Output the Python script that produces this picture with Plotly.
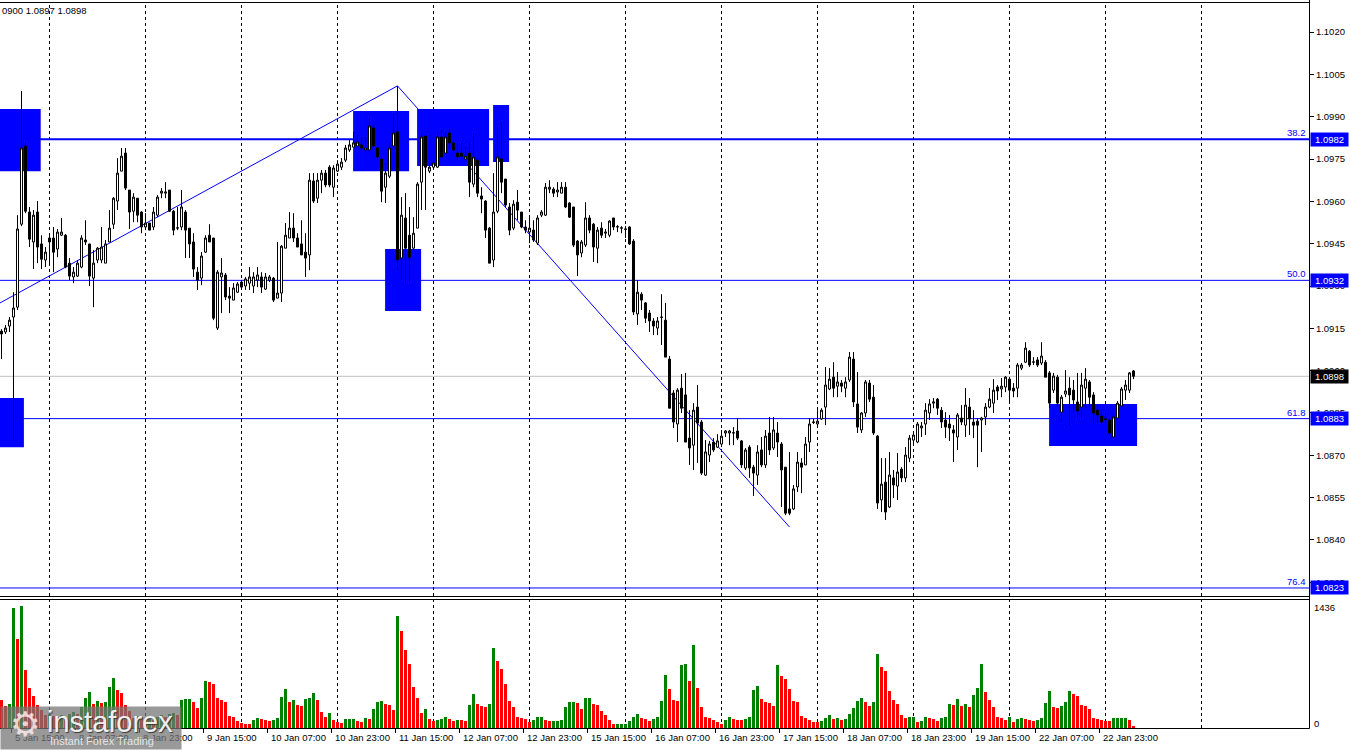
import plotly.graph_objects as go

# ---------------- data (EURUSD H1) ----------------
opens = [
1.09140, 1.09137, 1.09158, 1.09190, 1.09225, 1.09519, 1.09796, 1.09562, 1.09456, 1.09562,
1.09449, 1.09392, 1.09470, 1.09470, 1.09431, 1.09480, 1.09480, 1.09381, 1.09332, 1.09335,
1.09367, 1.09463, 1.09449, 1.09328, 1.09392, 1.09392, 1.09381, 1.09456, 1.09519, 1.09601,
1.09707, 1.09771, 1.09640, 1.09565, 1.09611, 1.09562, 1.09509, 1.09523, 1.09509, 1.09551,
1.09629, 1.09629, 1.09640, 1.09565, 1.09505, 1.09509, 1.09562, 1.09505, 1.09456, 1.09349,
1.09328, 1.09420, 1.09480, 1.09470, 1.09151, 1.09332, 1.09339, 1.09264, 1.09250, 1.09278,
1.09314, 1.09300, 1.09310, 1.09300, 1.09321, 1.09332, 1.09289, 1.09321, 1.09328, 1.09257,
1.09275, 1.09434, 1.09470, 1.09505, 1.09470, 1.09449, 1.09420, 1.09410, 1.09672, 1.09611,
1.09675, 1.09700, 1.09721, 1.09650, 1.09707, 1.09721, 1.09746, 1.09782, 1.09792, 1.09796,
1.09800, 1.09782, 1.09782, 1.09860, 1.09789, 1.09750, 1.09650, 1.09689, 1.09796, 1.09846,
1.09399, 1.09541, 1.09480, 1.09434, 1.09505, 1.09668, 1.09831, 1.09707, 1.09721, 1.09721,
1.09828, 1.09771, 1.09842, 1.09807, 1.09771, 1.09771, 1.09750, 1.09771, 1.09661, 1.09746,
1.09619, 1.09601, 1.09505, 1.09392, 1.09565, 1.09750, 1.09679, 1.09580, 1.09505, 1.09597,
1.09562, 1.09509, 1.09491, 1.09498, 1.09452, 1.09551, 1.09551, 1.09643, 1.09643, 1.09633,
1.09629, 1.09650, 1.09594, 1.09580, 1.09459, 1.09417, 1.09445, 1.09541, 1.09519, 1.09434,
1.09505, 1.09487, 1.09480, 1.09541, 1.09509, 1.09505, 1.09502, 1.09509, 1.09459, 1.09201,
1.09271, 1.09240, 1.09204, 1.09176, 1.09151, 1.09190, 1.09179, 1.09041, 1.08921, 1.08811,
1.08938, 1.08914, 1.08761, 1.08736, 1.08871, 1.08818, 1.08630, 1.08701, 1.08747, 1.08729,
1.08740, 1.08779, 1.08779, 1.08779, 1.08786, 1.08751, 1.08655, 1.08729, 1.08658, 1.08630,
1.08719, 1.08666, 1.08779, 1.08726, 1.08779, 1.08740, 1.08658, 1.08510, 1.08510, 1.08588,
1.08673, 1.08666, 1.08747, 1.08818, 1.08811, 1.08829, 1.08871, 1.08935, 1.08977, 1.08945,
1.08956, 1.08938, 1.08967, 1.09041, 1.08882, 1.08790, 1.08850, 1.08956, 1.08906, 1.08768,
1.08542, 1.08605, 1.08517, 1.08620, 1.08591, 1.08651, 1.08620, 1.08690, 1.08754, 1.08747,
1.08797, 1.08811, 1.08850, 1.08885, 1.08899, 1.08860, 1.08825, 1.08811, 1.08790, 1.08765,
1.08832, 1.08807, 1.08871, 1.08818, 1.08821, 1.08825, 1.08836, 1.08871, 1.08885, 1.08942,
1.08935, 1.08942, 1.08970, 1.08938, 1.08938, 1.09009, 1.09030, 1.09069, 1.09030, 1.09038,
1.09027, 1.09030, 1.08992, 1.08931, 1.08977, 1.08853, 1.08917, 1.08938, 1.08931, 1.08889,
1.08871, 1.08938, 1.08960, 1.08914, 1.08860, 1.08839, 1.08829, 1.08825, 1.08765, 1.08832,
1.08875, 1.08931, 1.08931, 1.08999]

highs = [
1.09147, 1.09162, 1.09190, 1.09278, 1.09551, 1.09991, 1.09810, 1.09580, 1.09569, 1.09601,
1.09480, 1.09438, 1.09487, 1.09509, 1.09502, 1.09541, 1.09484, 1.09399, 1.09367, 1.09392,
1.09480, 1.09533, 1.09449, 1.09427, 1.09438, 1.09509, 1.09463, 1.09569, 1.09615, 1.09753,
1.09789, 1.09789, 1.09640, 1.09629, 1.09611, 1.09565, 1.09558, 1.09523, 1.09580, 1.09622,
1.09647, 1.09668, 1.09640, 1.09569, 1.09580, 1.09640, 1.09569, 1.09505, 1.09487, 1.09367,
1.09420, 1.09480, 1.09519, 1.09470, 1.09356, 1.09399, 1.09346, 1.09296, 1.09310, 1.09314,
1.09321, 1.09332, 1.09367, 1.09349, 1.09367, 1.09349, 1.09346, 1.09339, 1.09332, 1.09456,
1.09445, 1.09523, 1.09562, 1.09558, 1.09487, 1.09533, 1.09487, 1.09700, 1.09700, 1.09700,
1.09711, 1.09711, 1.09728, 1.09728, 1.09746, 1.09753, 1.09800, 1.09817, 1.09846, 1.09835,
1.09828, 1.09828, 1.09895, 1.09870, 1.09792, 1.09757, 1.09736, 1.09807, 1.09913, 1.10009,
1.09615, 1.09629, 1.09580, 1.09544, 1.09668, 1.09842, 1.09835, 1.09736, 1.09746, 1.09846,
1.09853, 1.09846, 1.09860, 1.09817, 1.09807, 1.09807, 1.09792, 1.09807, 1.09842, 1.09753,
1.09650, 1.09604, 1.09509, 1.09700, 1.09863, 1.09881, 1.09679, 1.09594, 1.09604, 1.09640,
1.09562, 1.09533, 1.09541, 1.09533, 1.09551, 1.09569, 1.09665, 1.09675, 1.09650, 1.09668,
1.09668, 1.09668, 1.09597, 1.09580, 1.09463, 1.09463, 1.09597, 1.09551, 1.09523, 1.09509,
1.09526, 1.09502, 1.09533, 1.09541, 1.09516, 1.09512, 1.09512, 1.09512, 1.09466, 1.09321,
1.09278, 1.09243, 1.09215, 1.09186, 1.09190, 1.09271, 1.09240, 1.09052, 1.08931, 1.08938,
1.08988, 1.08992, 1.08860, 1.08885, 1.08949, 1.08825, 1.08754, 1.08751, 1.08761, 1.08775,
1.08790, 1.08790, 1.08790, 1.08800, 1.08832, 1.08754, 1.08726, 1.08736, 1.08666, 1.08736,
1.08765, 1.08790, 1.08836, 1.08836, 1.08818, 1.08747, 1.08658, 1.08712, 1.08595, 1.08712,
1.08690, 1.08765, 1.08832, 1.08829, 1.08860, 1.08867, 1.09013, 1.09009, 1.09030, 1.08995,
1.08967, 1.08977, 1.09066, 1.09066, 1.08995, 1.08853, 1.08967, 1.08967, 1.08949, 1.08772,
1.08690, 1.08690, 1.08712, 1.08648, 1.08708, 1.08658, 1.08729, 1.08772, 1.08779, 1.08818,
1.08818, 1.08885, 1.08899, 1.08903, 1.08903, 1.08871, 1.08853, 1.08843, 1.08807, 1.08850,
1.08878, 1.08938, 1.08903, 1.08860, 1.08832, 1.08836, 1.08885, 1.08938, 1.08970, 1.08949,
1.08974, 1.08981, 1.08974, 1.08956, 1.09027, 1.09027, 1.09101, 1.09073, 1.09048, 1.09048,
1.09101, 1.09038, 1.08999, 1.08992, 1.08985, 1.08914, 1.09002, 1.08977, 1.08967, 1.08992,
1.08992, 1.09009, 1.08967, 1.08924, 1.08878, 1.08860, 1.08850, 1.08832, 1.08843, 1.08892,
1.08942, 1.08967, 1.08995, 1.09002]

lows = [
1.09041, 1.09130, 1.09137, 1.08754, 1.09215, 1.09512, 1.09558, 1.09438, 1.09360, 1.09381,
1.09360, 1.09367, 1.09381, 1.09349, 1.09402, 1.09477, 1.09363, 1.09321, 1.09310, 1.09332,
1.09363, 1.09445, 1.09300, 1.09225, 1.09381, 1.09381, 1.09381, 1.09456, 1.09502, 1.09569,
1.09707, 1.09640, 1.09502, 1.09526, 1.09526, 1.09487, 1.09498, 1.09498, 1.09498, 1.09544,
1.09611, 1.09611, 1.09562, 1.09480, 1.09498, 1.09498, 1.09399, 1.09399, 1.09332, 1.09286,
1.09303, 1.09417, 1.09456, 1.09179, 1.09144, 1.09204, 1.09250, 1.09204, 1.09250, 1.09275,
1.09286, 1.09286, 1.09286, 1.09275, 1.09296, 1.09275, 1.09286, 1.09314, 1.09243, 1.09257,
1.09243, 1.09434, 1.09470, 1.09456, 1.09438, 1.09410, 1.09332, 1.09356, 1.09594, 1.09594,
1.09629, 1.09650, 1.09650, 1.09615, 1.09704, 1.09711, 1.09739, 1.09775, 1.09792, 1.09792,
1.09782, 1.09775, 1.09775, 1.09792, 1.09746, 1.09597, 1.09594, 1.09682, 1.09789, 1.09356,
1.09321, 1.09310, 1.09314, 1.09427, 1.09505, 1.09569, 1.09569, 1.09700, 1.09718, 1.09718,
1.09757, 1.09771, 1.09789, 1.09775, 1.09746, 1.09757, 1.09746, 1.09615, 1.09650, 1.09615,
1.09558, 1.09470, 1.09381, 1.09367, 1.09558, 1.09629, 1.09580, 1.09480, 1.09498, 1.09533,
1.09505, 1.09487, 1.09452, 1.09456, 1.09445, 1.09544, 1.09548, 1.09629, 1.09615, 1.09615,
1.09629, 1.09576, 1.09541, 1.09438, 1.09335, 1.09402, 1.09438, 1.09487, 1.09385, 1.09381,
1.09470, 1.09470, 1.09473, 1.09498, 1.09491, 1.09487, 1.09470, 1.09445, 1.09197, 1.09162,
1.09215, 1.09169, 1.09137, 1.09126, 1.09126, 1.09091, 1.09048, 1.08867, 1.08797, 1.08747,
1.08850, 1.08747, 1.08666, 1.08648, 1.08673, 1.08630, 1.08627, 1.08676, 1.08712, 1.08726,
1.08729, 1.08765, 1.08736, 1.08736, 1.08754, 1.08655, 1.08648, 1.08620, 1.08556, 1.08595,
1.08658, 1.08655, 1.08701, 1.08719, 1.08694, 1.08517, 1.08488, 1.08488, 1.08506, 1.08570,
1.08566, 1.08666, 1.08712, 1.08811, 1.08800, 1.08825, 1.08807, 1.08931, 1.08906, 1.08906,
1.08924, 1.08906, 1.08960, 1.08871, 1.08779, 1.08779, 1.08836, 1.08889, 1.08772, 1.08510,
1.08499, 1.08471, 1.08513, 1.08549, 1.08542, 1.08605, 1.08605, 1.08676, 1.08743, 1.08743,
1.08765, 1.08772, 1.08825, 1.08867, 1.08843, 1.08797, 1.08761, 1.08751, 1.08676, 1.08719,
1.08807, 1.08765, 1.08772, 1.08761, 1.08658, 1.08712, 1.08807, 1.08867, 1.08850, 1.08896,
1.08906, 1.08924, 1.08889, 1.08906, 1.08906, 1.09002, 1.09027, 1.09013, 1.09020, 1.09013,
1.09020, 1.08977, 1.08867, 1.08921, 1.08871, 1.08818, 1.08906, 1.08807, 1.08853, 1.08832,
1.08832, 1.08867, 1.08871, 1.08811, 1.08814, 1.08811, 1.08814, 1.08772, 1.08758, 1.08825,
1.08867, 1.08896, 1.08921, 1.08970]

closes = [
1.09130, 1.09151, 1.09179, 1.09222, 1.09502, 1.09789, 1.09565, 1.09466, 1.09551, 1.09438,
1.09395, 1.09420, 1.09456, 1.09420, 1.09491, 1.09491, 1.09367, 1.09335, 1.09349, 1.09381,
1.09470, 1.09456, 1.09335, 1.09381, 1.09434, 1.09438, 1.09449, 1.09505, 1.09611, 1.09700,
1.09760, 1.09647, 1.09562, 1.09615, 1.09551, 1.09509, 1.09523, 1.09498, 1.09562, 1.09615,
1.09636, 1.09633, 1.09565, 1.09498, 1.09506, 1.09580, 1.09498, 1.09449, 1.09360, 1.09321,
1.09406, 1.09470, 1.09456, 1.09186, 1.09349, 1.09346, 1.09261, 1.09257, 1.09293, 1.09307,
1.09296, 1.09325, 1.09332, 1.09332, 1.09339, 1.09296, 1.09332, 1.09332, 1.09250, 1.09275,
1.09441, 1.09480, 1.09505, 1.09470, 1.09438, 1.09410, 1.09399, 1.09675, 1.09601, 1.09675,
1.09700, 1.09658, 1.09658, 1.09718, 1.09732, 1.09739, 1.09789, 1.09800, 1.09807, 1.09810,
1.09789, 1.09789, 1.09867, 1.09796, 1.09757, 1.09636, 1.09700, 1.09789, 1.09842, 1.09392,
1.09551, 1.09434, 1.09402, 1.09487, 1.09661, 1.09828, 1.09721, 1.09721, 1.09736, 1.09828,
1.09757, 1.09828, 1.09807, 1.09782, 1.09757, 1.09760, 1.09760, 1.09668, 1.09757, 1.09629,
1.09608, 1.09498, 1.09381, 1.09562, 1.09757, 1.09668, 1.09587, 1.09498, 1.09590, 1.09569,
1.09509, 1.09498, 1.09505, 1.09463, 1.09541, 1.09562, 1.09650, 1.09650, 1.09629, 1.09640,
1.09650, 1.09580, 1.09544, 1.09445, 1.09410, 1.09456, 1.09541, 1.09498, 1.09438, 1.09498,
1.09480, 1.09491, 1.09530, 1.09509, 1.09510, 1.09506, 1.09501, 1.09449, 1.09208, 1.09278,
1.09250, 1.09186, 1.09176, 1.09158, 1.09176, 1.09189, 1.09048, 1.08867, 1.08818, 1.08931,
1.08867, 1.08747, 1.08726, 1.08860, 1.08814, 1.08637, 1.08712, 1.08740, 1.08719, 1.08751,
1.08768, 1.08786, 1.08786, 1.08780, 1.08761, 1.08666, 1.08719, 1.08655, 1.08637, 1.08712,
1.08666, 1.08768, 1.08719, 1.08790, 1.08747, 1.08648, 1.08495, 1.08495, 1.08581, 1.08676,
1.08658, 1.08740, 1.08811, 1.08817, 1.08821, 1.08860, 1.08949, 1.08970, 1.08938, 1.08960,
1.08945, 1.08960, 1.09048, 1.08889, 1.08800, 1.08850, 1.08960, 1.08899, 1.08779, 1.08531,
1.08598, 1.08499, 1.08630, 1.08595, 1.08641, 1.08620, 1.08701, 1.08761, 1.08772, 1.08811,
1.08804, 1.08860, 1.08882, 1.08889, 1.08867, 1.08818, 1.08800, 1.08797, 1.08779, 1.08843,
1.08818, 1.08878, 1.08829, 1.08807, 1.08807, 1.08832, 1.08871, 1.08899, 1.08931, 1.08928,
1.08945, 1.08977, 1.08931, 1.08928, 1.09020, 1.09020, 1.09080, 1.09020, 1.09031, 1.09020,
1.09052, 1.08977, 1.08885, 1.08981, 1.08885, 1.08906, 1.08928, 1.08914, 1.08896, 1.08857,
1.08949, 1.08970, 1.08906, 1.08850, 1.08843, 1.08818, 1.08828, 1.08779, 1.08836, 1.08885,
1.08935, 1.08949, 1.08992, 1.08980]

volumes = [
326, 259, 286, 1412, 1043, 1436, 679, 471, 373, 267,
208, 149, 165, 140, 120, 150, 130, 160, 190, 170,
250, 353, 424, 286, 318, 294, 306, 483, 588, 451,
412, 267, 200, 120, 145, 120, 100, 110, 95, 130,
150, 130, 160, 180, 150, 326, 337, 340, 306, 235,
357, 549, 545, 522, 353, 326, 302, 137, 133, 78,
62, 51, 43, 90, 114, 102, 100, 78, 90, 118,
361, 455, 302, 326, 267, 255, 337, 357, 408, 326,
184, 129, 180, 90, 67, 59, 102, 104, 106, 78,
76, 114, 102, 220, 306, 318, 286, 267, 208, 1314,
1138, 914, 749, 483, 357, 177, 220, 102, 78, 90,
102, 126, 110, 78, 96, 90, 88, 267, 396, 286,
255, 250, 279, 938, 785, 690, 514, 318, 243, 126,
118, 106, 67, 90, 126, 128, 90, 78, 80, 88,
92, 243, 302, 304, 300, 224, 349, 352, 286, 267,
196, 149, 90, 43, 45, 47, 49, 78, 126, 161,
118, 102, 78, 102, 126, 318, 620, 455, 326, 314,
737, 749, 553, 973, 467, 243, 126, 114, 90, 67,
43, 90, 126, 102, 100, 90, 102, 126, 447, 490,
337, 302, 300, 255, 737, 608, 573, 455, 314, 302,
137, 114, 90, 67, 65, 78, 114, 149, 102, 114,
90, 102, 161, 231, 314, 349, 302, 255, 302, 867,
714, 667, 432, 326, 279, 149, 114, 126, 128, 67,
78, 126, 114, 102, 78, 114, 126, 279, 267, 337,
255, 279, 243, 384, 467, 749, 420, 326, 243, 126,
114, 90, 126, 67, 102, 114, 102, 90, 78, 90,
114, 290, 432, 243, 231, 255, 302, 432, 396, 373,
267, 255, 220, 114, 102, 90, 88, 78, 114, 116,
118, 120, 90, 12]

# time axis: bar number -> label (every 16 bars) and day separators
tick_index = [3, 19, 35, 51, 67, 83, 99, 115, 131, 147, 163, 179, 195, 211, 227, 243, 259, 275]
tick_labels = ["5 Jan 15:00", "8 Jan 07:00", "8 Jan 23:00", "9 Jan 15:00", "10 Jan 07:00",
               "10 Jan 23:00", "11 Jan 15:00", "12 Jan 07:00", "12 Jan 23:00", "15 Jan 15:00",
               "16 Jan 07:00", "16 Jan 23:00", "17 Jan 15:00", "18 Jan 07:00", "18 Jan 23:00",
               "19 Jan 15:00", "22 Jan 07:00", "22 Jan 23:00"]
day_start_index = [12, 36, 60, 84, 108, 132, 156, 180, 204, 228, 252, 276, 300]

price_ticks = [1.1020, 1.1005, 1.0990, 1.0975, 1.0960, 1.0945, 1.0930, 1.0915,
               1.0900, 1.0885, 1.0870, 1.0855, 1.0840, 1.0825]

fib_levels = [1.0982, 1.0932, 1.0883, 1.0823]
fib_names = ["38.2", "50.0", "61.8", "76.4"]
last_price = 1.0898
header_text = "0900 1.0897 1.0898"
vol_max_label = "1436"

# trend lines (bar, price)
trend_a = [(-0.375, 1.09240), (99, 1.10009)]
trend_b = [(99, 1.10009), (197, 1.08446)]

# zones: (bar_from, bar_to, price_low, price_high)
zones = [
    (-0.4, 9.8, 1.09707, 1.09927),
    (-0.4, 5.6, 1.08729, 1.08903),
    (87.9, 101.9, 1.09707, 1.09920),
    (95.9, 104.9, 1.09211, 1.09431),
    (103.9, 121.9, 1.09725, 1.09927),
    (122.9, 126.9, 1.09739, 1.09941),
    (261.9, 283.9, 1.08733, 1.08882),
]

# ---------------- layout geometry ----------------
W, H = 1350, 750
ML, MR, MT, MB = 0, 41, 2, 22
PW = W - ML - MR
PH = H - MT - MB


def pxx(p):
    return (p - ML) / PW


def pxy(p):
    return (H - MB - p) / PH


FONT = "Liberation Sans"
BLUE = "#0000FF"

idx = list(range(len(closes)))
vol_colors = []
for i, v in enumerate(volumes):
    vol_colors.append("#008000" if (i > 0 and v > volumes[i - 1]) else "#FF0000")

fig = go.Figure()
fig.add_trace(go.Candlestick(
    x=idx, open=opens, high=highs, low=lows, close=closes,
    increasing=dict(line=dict(color="black", width=1), fillcolor="white"),
    decreasing=dict(line=dict(color="black", width=1), fillcolor="black"),
    whiskerwidth=0, showlegend=False, xaxis="x", yaxis="y", hoverinfo="x+y"))
fig.add_trace(go.Bar(
    x=idx, y=volumes, marker=dict(color=vol_colors, line=dict(width=0)),
    width=0.75, showlegend=False, xaxis="x", yaxis="y2"))

shapes = []
# day separators (dashed grid)
for d in day_start_index:
    shapes.append(dict(type="line", xref="x", yref="paper", x0=d, x1=d, y0=0, y1=1,
                       line=dict(color="black", width=1, dash="3px,3px"), layer="below"))
# zones
for x0, x1, lo, hi in zones:
    shapes.append(dict(type="rect", xref="x", yref="y", x0=x0, x1=x1, y0=lo, y1=hi,
                       fillcolor=BLUE, line=dict(width=0), layer="below"))
# last price line
shapes.append(dict(type="line", xref="paper", yref="y", x0=0, x1=1, y0=last_price, y1=last_price,
                   line=dict(color="#C0C0C0", width=1), layer="below"))
# fibonacci levels
for lv, nm in zip(fib_levels, fib_names):
    shapes.append(dict(type="line", xref="paper", yref="y", x0=0, x1=1, y0=lv, y1=lv,
                       line=dict(color=BLUE, width=2 if nm == "38.2" else 1), layer="below"))
# trend lines
for seg in (trend_a, trend_b):
    shapes.append(dict(type="line", xref="x", yref="y", x0=seg[0][0], y0=seg[0][1],
                       x1=seg[1][0], y1=seg[1][1], line=dict(color=BLUE, width=1), layer="below"))
# frame lines
frame = dict(color="black", width=1)
shapes += [
    dict(type="line", xref="paper", yref="paper", x0=0, x1=pxx(1309.5), y0=pxy(2.5), y1=pxy(2.5), line=frame),
    dict(type="line", xref="paper", yref="paper", x0=pxx(1309.5), x1=pxx(1309.5), y0=pxy(728.5), y1=pxy(0), line=frame),
    dict(type="line", xref="paper", yref="paper", x0=0, x1=pxx(1309.5), y0=pxy(596.5), y1=pxy(596.5), line=frame),
    dict(type="line", xref="paper", yref="paper", x0=0, x1=pxx(1309.5), y0=pxy(599.5), y1=pxy(599.5), line=frame),
    dict(type="line", xref="paper", yref="paper", x0=0, x1=pxx(1309.5), y0=pxy(728.5), y1=pxy(728.5), line=frame),
]

ann = []
# x labels
for t, lab in zip(tick_index, tick_labels):
    ann.append(dict(x=t - 0.5, xref="x", y=0, yref="paper", text=lab, showarrow=False,
                    xanchor="left", yanchor="top", xshift=1, yshift=-2,
                    font=dict(family=FONT, size=9.5, color="black")))
# fib labels and price boxes
for lv, nm in zip(fib_levels, fib_names):
    ann.append(dict(x=1, xref="paper", y=lv, yref="y", text=nm, showarrow=False,
                    xanchor="right", yanchor="bottom", xshift=-1, yshift=-1,
                    font=dict(family=FONT, size=9.5, color=BLUE)))
    ann.append(dict(x=1, xref="paper", y=lv, yref="y", text=f"{lv:.4f}", showarrow=False,
                    xanchor="left", yanchor="middle", xshift=1, width=35, height=11,
                    bgcolor=BLUE, borderpad=1, align="center",
                    font=dict(family=FONT, size=9.5, color="white")))
ann.append(dict(x=1, xref="paper", y=last_price, yref="y", text=f"{last_price:.4f}", showarrow=False,
                xanchor="left", yanchor="middle", xshift=1, width=35, height=11,
                bgcolor="black", borderpad=1, align="center",
                font=dict(family=FONT, size=9.5, color="white")))
# volume scale labels
ann.append(dict(x=1, xref="paper", y=pxy(607), yref="paper", text=vol_max_label, showarrow=False,
                xanchor="left", yanchor="middle", xshift=3, font=dict(family=FONT, size=9.5, color="black")))
ann.append(dict(x=1, xref="paper", y=pxy(723), yref="paper", text="0", showarrow=False,
                xanchor="left", yanchor="middle", xshift=3, font=dict(family=FONT, size=9.5, color="black")))
# header
ann.append(dict(x=0, xref="paper", y=pxy(11), yref="paper", text=header_text, showarrow=False,
                xanchor="left", yanchor="middle", font=dict(family=FONT, size=9.5, color="black")))
# watermark (drawn over the volume bars and date labels, semi-transparent)
ann.append(dict(x=0, xref="paper", y=pxy(750), yref="paper", text=" ", showarrow=False,
                xanchor="left", yanchor="bottom", width=180, height=42, borderpad=0,
                bgcolor="rgba(118,118,118,0.74)"))
ann.append(dict(x=pxx(25), xref="paper", y=pxy(724), yref="paper", text="\u2699", showarrow=False,
                xanchor="center", yanchor="middle",
                font=dict(family="DejaVu Sans", size=34, color="rgba(255,235,235,0.85)")))
ann.append(dict(x=pxx(45), xref="paper", y=pxy(722), yref="paper", text="instaforex", showarrow=False,
                xanchor="left", yanchor="middle",
                font=dict(family=FONT, size=29, color="rgba(255,255,255,0.92)",
                          shadow="1px 1px 1px #333333")))
ann.append(dict(x=pxx(48), xref="paper", y=pxy(741), yref="paper", text="Instant Forex Trading",
                showarrow=False, xanchor="left", yanchor="middle",
                font=dict(family=FONT, size=11, color="rgba(240,240,240,0.9)")))

fig.update_layout(
    width=W, height=H,
    margin=dict(l=ML, r=MR, t=MT, b=MB, autoexpand=False),
    paper_bgcolor="white", plot_bgcolor="white",
    font=dict(family=FONT, size=10, color="black"),
    showlegend=False,
    boxgap=0.5, boxgroupgap=0,
    bargap=0,
    xaxis=dict(range=[-0.375, 326.875], anchor="y2", showgrid=False, zeroline=False,
               showline=False, rangeslider=dict(visible=False),
               tickmode="array", tickvals=[t - 0.5 for t in tick_index], ticktext=[""] * len(tick_index),
               ticks="outside", ticklen=4, tickcolor="black", showticklabels=False, fixedrange=True),
    yaxis=dict(domain=[pxy(597), 1], range=[1.081980, 1.103063], side="right", anchor="x",
               showgrid=False, zeroline=False, showline=False,
               tickmode="array", tickvals=price_ticks, ticktext=[f"{p:.4f}" for p in price_ticks],
               ticks="outside", ticklen=4, tickcolor="black",
               tickfont=dict(family=FONT, size=9.5, color="black"), fixedrange=True),
    yaxis2=dict(domain=[0, pxy(600)], range=[0, 1436 * 128 / 122], anchor="x",
                showgrid=False, zeroline=False, showline=False, showticklabels=False,
                ticks="", fixedrange=True),
    shapes=shapes,
    annotations=ann,
)

fig.write_html("out.html", config={"displayModeBar": False},
               post_script="document.body.style.margin='0';")
